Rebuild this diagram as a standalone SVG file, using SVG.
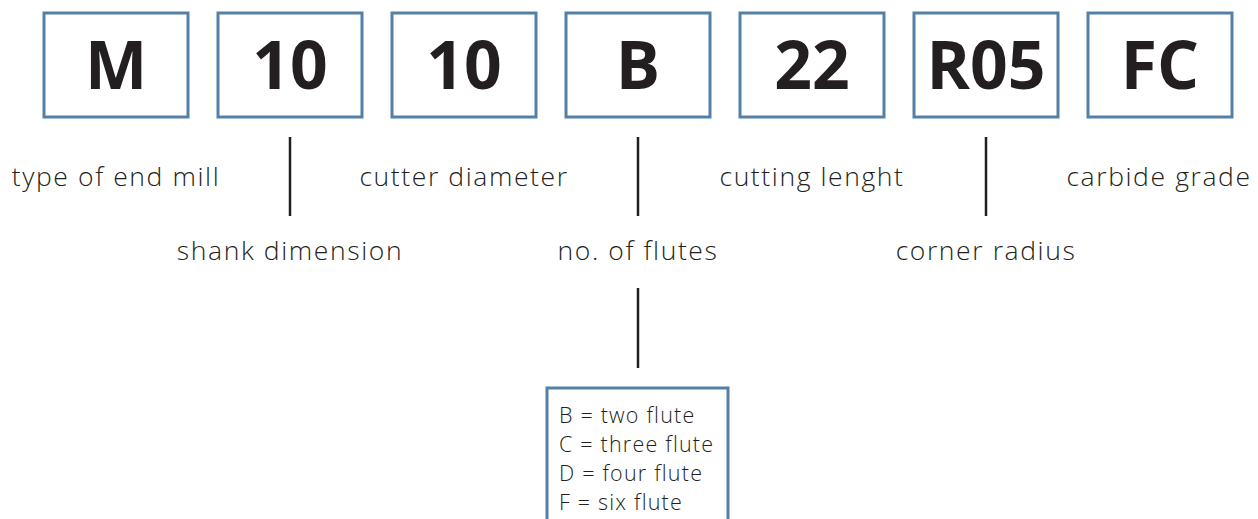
<svg xmlns="http://www.w3.org/2000/svg" width="1258" height="519" viewBox="0 0 1258 519">
<style>
.box{fill:#fff;stroke:#5580a6;stroke-width:3}
.code{font-family:"Open Sans",sans-serif;font-weight:700;font-size:66px;fill:#231f20;text-anchor:middle}
.lbl{font-family:"Open Sans",sans-serif;font-weight:300;font-size:26.5px;letter-spacing:1.6px;fill:#231f20;text-anchor:middle}
.conn{stroke:#231f20;stroke-width:2.5}
.small{font-family:"Open Sans",sans-serif;font-weight:300;font-size:21.5px;letter-spacing:1.2px;fill:#231f20}
</style>
<rect width="1258" height="519" fill="#fff"/>
<g id="node-M"><rect class="box" x="44" y="13" width="144" height="104"/><text class="code" x="116" y="89">M</text></g>
<g id="node-10a"><rect class="box" x="218" y="13" width="144" height="104"/><text class="code" x="290" y="89">10</text></g>
<g id="node-10b"><rect class="box" x="392" y="13" width="144" height="104"/><text class="code" x="464" y="89">10</text></g>
<g id="node-B"><rect class="box" x="566" y="13" width="144" height="104"/><text class="code" x="638" y="89">B</text></g>
<g id="node-22"><rect class="box" x="740" y="13" width="144" height="104"/><text class="code" x="812" y="89">22</text></g>
<g id="node-R05"><rect class="box" x="914" y="13" width="144" height="104"/><text class="code" x="986" y="89">R05</text></g>
<g id="node-FC"><rect class="box" x="1088" y="13" width="144" height="104"/><text class="code" x="1160" y="89">FC</text></g>
<g id="connectors">
<line class="conn" x1="290" y1="137" x2="290" y2="216"/>
<line class="conn" x1="638" y1="137" x2="638" y2="216"/>
<line class="conn" x1="986" y1="137" x2="986" y2="216"/>
<line class="conn" x1="638" y1="288" x2="638" y2="368"/>
</g>
<g id="labels">
<text class="lbl" x="116" y="186">type of end mill</text>
<text class="lbl" x="464" y="186">cutter diameter</text>
<text class="lbl" x="812" y="186">cutting lenght</text>
<text class="lbl" x="1159" y="186">carbide grade</text>
<text class="lbl" x="290" y="260">shank dimension</text>
<text class="lbl" x="638" y="260">no. of flutes</text>
<text class="lbl" x="986" y="260">corner radius</text>
</g>
<g id="node-flutes">
<path d="M547,525 V388 H728 V525" fill="#fff" stroke="#5580a6" stroke-width="3"/>
<text class="small" x="559" y="423">B = two flute</text>
<text class="small" x="559" y="452">C = three flute</text>
<text class="small" x="559" y="481">D = four flute</text>
<text class="small" x="559" y="510">F = six flute</text>
</g>
</svg>
